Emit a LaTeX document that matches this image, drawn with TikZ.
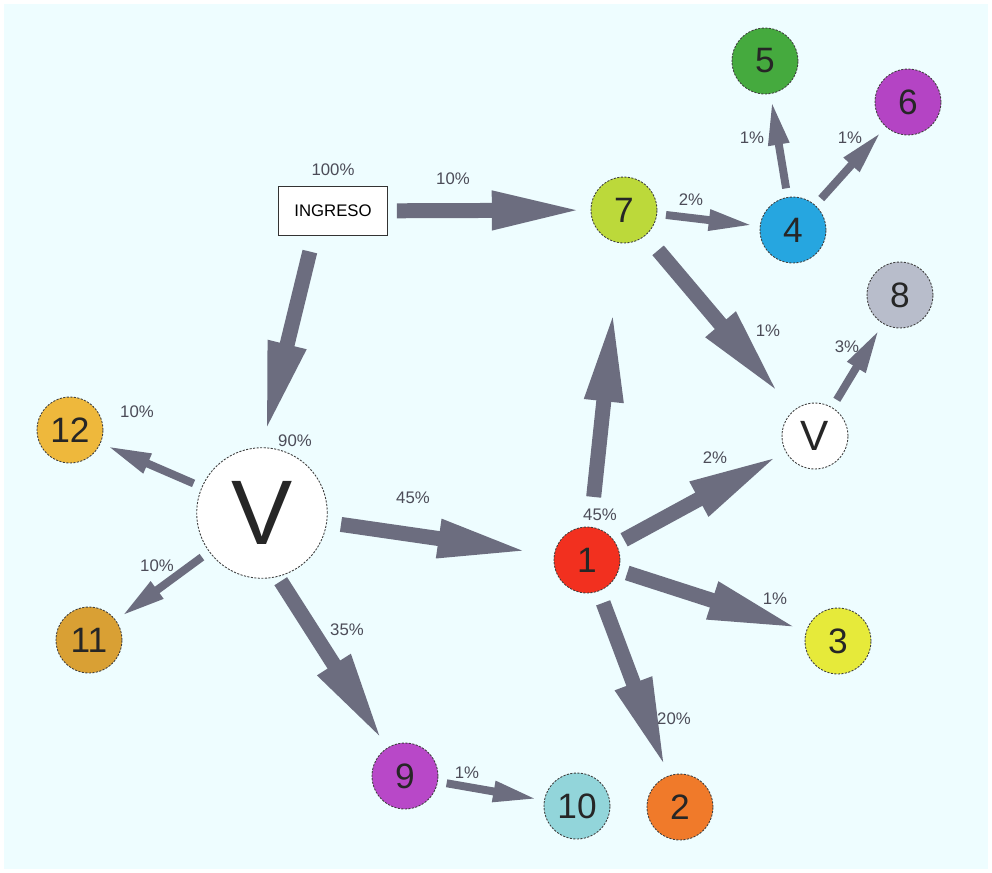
\documentclass[tikz,border=0pt]{standalone}
\usepackage{fontspec}
\setmainfont{Liberation Sans}
\usepackage{xcolor}
\definecolor{bgcyan}{HTML}{EEFDFF}
\definecolor{flowgray}{HTML}{6C6D7F}
\definecolor{labelgray}{HTML}{4C4C58}
\definecolor{cred}{HTML}{F2301F}
\definecolor{corange}{HTML}{F07A2A}
\definecolor{cyellow}{HTML}{E6EA3A}
\definecolor{cblue}{HTML}{26A6E0}
\definecolor{cgreen}{HTML}{45AA3E}
\definecolor{cpurple}{HTML}{B444C4}
\definecolor{clime}{HTML}{BCD93A}
\definecolor{cgray}{HTML}{B8BDCB}
\definecolor{cmagenta}{HTML}{B848C8}
\definecolor{ccyan}{HTML}{92D5DA}
\definecolor{cbrown}{HTML}{D9A034}
\definecolor{cgold}{HTML}{EEB83C}
\usepackage{tikz}
\usetikzlibrary{arrows.meta, positioning}

\begin{document}
\begin{tikzpicture}[x=0.5669pt, y=-0.5669pt,
    station/.style={circle, draw=black!75, dash pattern=on 1.2pt off 0.8pt, line width=0.5pt, minimum size=37.4pt, inner sep=0pt, text=black!85, font=\fontsize{20}{20}\selectfont},
    pct/.style={font=\fontsize{9.5}{11}\selectfont, text=labelgray, inner sep=1pt},
    bigflow/.style={draw=flowgray, line width=8.5pt, -{Triangle[length=52pt, width=20pt]}, shorten <=5pt, shorten >=4pt},
    smallflow/.style={draw=flowgray, line width=4.5pt, -{Triangle[length=25pt, width=11pt]}, shorten <=5pt, shorten >=4pt}]
    % Background
    \fill[white] (0,0) rectangle (992,873);
    \fill[bgcyan] (4,4) rectangle (988,869);
    % Nodes
    \node[draw=black!80, fill=white, line width=0.5pt, minimum width=62pt, minimum height=28pt, font=\fontsize{9.5}{11}\selectfont] (ingreso) at (333,211) {INGRESO};
    \node[station, minimum size=74pt, fill=white, font=\fontsize{52}{52}\selectfont] (vbig) at (262,513) {V};
    \node[station, fill=white, font=\fontsize{24}{24}\selectfont] (vsmall) at (815,436) {V};
    \foreach \n/\x/\y/\col in {1/587/560/cred, 2/680/807/corange, 3/838/641/cyellow, 4/793/230/cblue, 5/765/61/cgreen, 6/908/102/cpurple, 7/624/210/clime, 8/900/295/cgray, 9/405/776/cmagenta, 10/577/806/ccyan, 11/89/640/cbrown, 12/70/430/cgold} {
        \node[station, fill=\col] (n\n) at (\x,\y) {\n};
    }
    % Flows
    \draw[bigflow] (ingreso) -- (n7);
    \draw[bigflow, shorten <=9pt, shorten >=8pt] ([xshift=-11pt]ingreso.south) -- (vbig.north);
    \draw[bigflow, shorten <=8pt, shorten >=14pt] (vbig) -- (n1);
    \draw[bigflow, shorten <=3pt] (vbig.-76) -- (n9);
    \draw[bigflow, shorten <=17pt, shorten >=38pt] (n1) -- (n7);
    \draw[bigflow, shorten <=11pt, shorten >=12pt] (n7) -- (vsmall);
    \draw[bigflow, shorten <=7pt] (n1) -- (n2);
    \foreach \a/\b in {n1/vsmall, n1/n3} {
        \draw[bigflow] (\a) -- (\b);
    }
    \foreach \a/\b in {vbig/n12, vbig/n11, n7/n4, n4/n5, n4/n6, vsmall/n8, n9/n10} {
        \draw[smallflow] (\a) -- (\b);
    }
    % Percentages
    \foreach \x/\y/\t [count=\i] in {333/170/100\%, 453/179/10\%, 691/200/2\%, 752/138/1\%, 850/138/1\%, 768/331/1\%, 847/347/3\%, 715/458/2\%, 137/412/10\%, 295/441/90\%, 157/566/10\%, 347/630/35\%, 413/498/45\%, 600/515/45\%, 775/599/1\%, 674/719/20\%, 467/773/1\%} {
        \node[pct] (pct\i) at (\x,\y) {\t};
    }
\end{tikzpicture}
\end{document}
